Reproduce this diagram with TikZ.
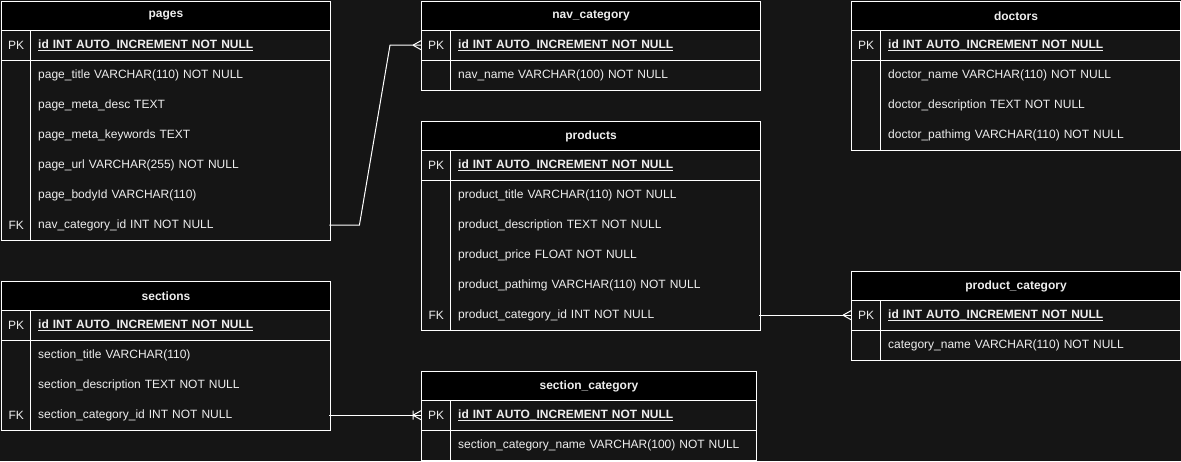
\documentclass[tikz,border=0pt]{standalone}
\usepackage{fontspec}
\setmainfont{Liberation Sans}
\definecolor{bgc}{HTML}{151515}
\definecolor{txt}{HTML}{EEEEEE}
\tikzset{
  tbl/.style={draw=white, line width=1pt},
  hdr/.style={draw=white, line width=1pt, fill=black, minimum height=29pt, inner sep=0pt, text=txt, font=\fontsize{12}{14}\selectfont\bfseries},
  keycell/.style={minimum width=30pt, minimum height=30pt, inner sep=0pt, anchor=north west, text=txt, font=\fontsize{12}{14}\selectfont},
  attr/.style={minimum height=30pt, inner xsep=8pt, inner ysep=0pt, anchor=north west, align=left, text=txt, font=\fontsize{12}{14}\selectfont},
  conn/.style={draw=white, line width=1pt},
}
% name, x, y, width, number of rows after PK, title
\newcommand\ertable[6]{%
  \draw[tbl, fill=bgc] (#2,{#3+29}) rectangle ++(#4,{30*(#5+1)});
  \draw[tbl] ({#2+29},{#3+29}) -- ++(0,{30*(#5+1)});
  \draw[tbl] (#2,{#3+59}) -- ++(#4,0);
  \node[hdr, minimum width=#4pt, anchor=north west] (#1) at (#2,#3) {#6};
}
\newcommand\myul[1]{\setbox0\hbox{#1}\rlap{\rule[-1.9pt]{\wd0}{0.9pt}}\box0}
\newcommand\idtxt{\myul{\textbf{id INT AUTO\_INCREMENT NOT NULL}}}
\begin{document}
\begin{tikzpicture}[x=1pt,y=-1pt]
\fill[bgc] (0,0) rectangle (1181,461);
\useasboundingbox (0,0) rectangle (1181,461);

% ---------- pages
\ertable{pages}{1}{1}{329}{6}{pages}
\node[keycell] (pages-pkl) at (1,30) {PK};
\node[attr, text width=283pt] (pages-pk) at (30,30) {\idtxt};
\node[attr, text width=283pt] (pages-r1) at (30,60) {page\_title VARCHAR(110) NOT NULL};
\node[attr, text width=283pt] (pages-r2) at (30,90) {page\_meta\_desc TEXT};
\node[attr, text width=283pt] (pages-r3) at (30,120) {page\_meta\_keywords TEXT};
\node[attr, text width=283pt] (pages-r4) at (30,150) {page\_url VARCHAR(255) NOT NULL};
\node[attr, text width=283pt] (pages-r5) at (30,180) {page\_bodyId VARCHAR(110)};
\node[keycell] (pages-fkl) at (1,210) {FK};
\node[attr, text width=283pt] (pages-fk) at (30,210) {nav\_category\_id INT NOT NULL};

% ---------- nav_category
\ertable{navcat}{421}{1}{339}{1}{nav\_category}
\node[keycell] (navcat-pkl) at (421,30) {PK};
\node[attr, text width=293pt] (navcat-pk) at (450,30) {\idtxt};
\node[attr, text width=293pt] (navcat-r1) at (450,60) {nav\_name VARCHAR(100) NOT NULL};

% ---------- doctors
\ertable{doctors}{851}{1}{329}{3}{doctors}
\node[keycell] (doctors-pkl) at (851,30) {PK};
\node[attr, text width=283pt] (doctors-pk) at (880,30) {\idtxt};
\node[attr, text width=283pt] (doctors-r1) at (880,60) {doctor\_name VARCHAR(110) NOT NULL};
\node[attr, text width=283pt] (doctors-r2) at (880,90) {doctor\_description TEXT NOT NULL};
\node[attr, text width=283pt] (doctors-r3) at (880,120) {doctor\_pathimg VARCHAR(110) NOT NULL};

% ---------- products
\ertable{products}{421}{121}{339}{5}{products}
\node[keycell] (products-pkl) at (421,150) {PK};
\node[attr, text width=293pt] (products-pk) at (450,150) {\idtxt};
\node[attr, text width=293pt] (products-r1) at (450,180) {product\_title VARCHAR(110) NOT NULL};
\node[attr, text width=293pt] (products-r2) at (450,210) {product\_description TEXT NOT NULL};
\node[attr, text width=293pt] (products-r3) at (450,240) {product\_price FLOAT NOT NULL};
\node[attr, text width=293pt] (products-r4) at (450,270) {product\_pathimg VARCHAR(110) NOT NULL};
\node[keycell] (products-fkl) at (421,300) {FK};
\node[attr, text width=293pt] (products-fk) at (450,300) {product\_category\_id INT NOT NULL};

% ---------- product_category
\ertable{prodcat}{851}{271}{329}{1}{product\_category}
\node[keycell] (prodcat-pkl) at (851,300) {PK};
\node[attr, text width=283pt] (prodcat-pk) at (880,300) {\idtxt};
\node[attr, text width=283pt] (prodcat-r1) at (880,330) {category\_name VARCHAR(110) NOT NULL};

% ---------- sections
\ertable{sections}{1}{281}{329}{3}{sections}
\node[keycell] (sections-pkl) at (1,310) {PK};
\node[attr, text width=283pt] (sections-pk) at (30,310) {\idtxt};
\node[attr, text width=283pt] (sections-r1) at (30,340) {section\_title VARCHAR(110)};
\node[attr, text width=283pt] (sections-r2) at (30,370) {section\_description TEXT NOT NULL};
\node[keycell] (sections-fkl) at (1,400) {FK};
\node[attr, text width=283pt] (sections-fk) at (30,400) {section\_category\_id INT NOT NULL};

% ---------- section_category
\ertable{seccat}{421}{371}{335}{1}{section\_category}
\node[keycell] (seccat-pkl) at (421,400) {PK};
\node[attr, text width=289pt] (seccat-pk) at (450,400) {\idtxt};
\node[attr, text width=289pt] (seccat-r1) at (450,430) {section\_category\_name VARCHAR(100) NOT NULL};

% ---------- connectors
\draw[conn] (pages-fk.east) -- ++(30,0) -- ([xshift=-31pt]navcat-pkl.west) -- (navcat-pkl.west);
\draw[conn] ([xshift=-8pt]navcat-pkl.west) -- ([yshift=4.5pt]navcat-pkl.west)
            ([xshift=-8pt]navcat-pkl.west) -- ([yshift=-4.5pt]navcat-pkl.west);

\draw[conn] (products-fk.east) -- (prodcat-pkl.west);
\draw[conn] ([xshift=-8pt]prodcat-pkl.west) -- ([yshift=4.5pt]prodcat-pkl.west)
            ([xshift=-8pt]prodcat-pkl.west) -- ([yshift=-4.5pt]prodcat-pkl.west);

\draw[conn] (sections-fk.east) -- (seccat-pkl.west);
\draw[conn] ([xshift=-8pt]seccat-pkl.west) -- ([yshift=4.5pt]seccat-pkl.west)
            ([xshift=-8pt]seccat-pkl.west) -- ([yshift=-4.5pt]seccat-pkl.west)
            ([xshift=-8pt,yshift=4.5pt]seccat-pkl.west) -- ([xshift=-8pt,yshift=-4.5pt]seccat-pkl.west);
\end{tikzpicture}
\end{document}
